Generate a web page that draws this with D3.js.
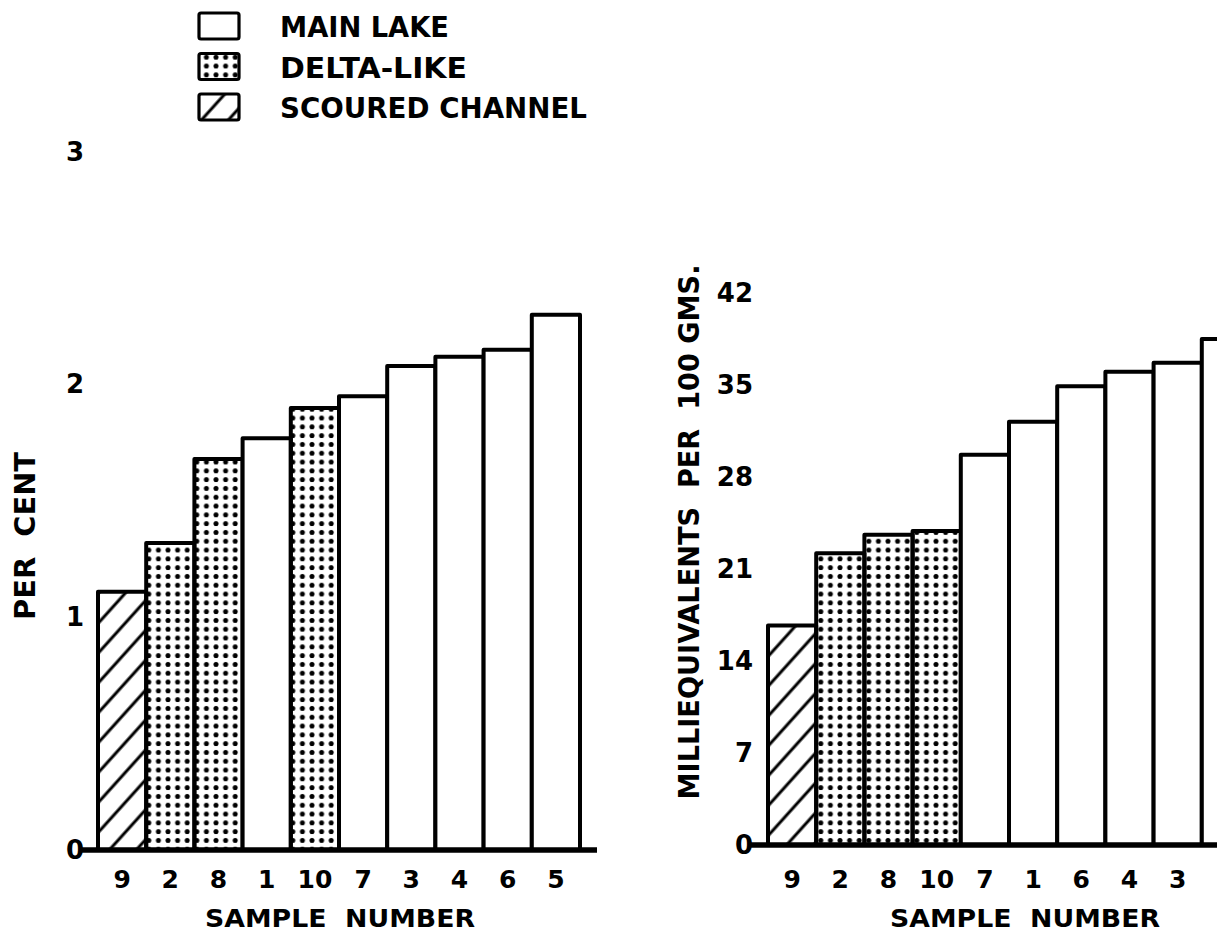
<!DOCTYPE html>
<html>
<head>
<meta charset="utf-8">
<script src="https://cdn.jsdelivr.net/npm/d3@7"></script>
<style>
  body { margin: 0; background: #fff; }
  svg { display: block; background: #fff; }
  text { font-family: "DejaVu Sans", "Liberation Sans", sans-serif; font-weight: bold; fill: #000; }
</style>
</head>
<body>
<svg id="chart"></svg>
<script>
// left panel: per cent
const leftSamples = ["9", "2", "8", "1", "10", "7", "3", "4", "6", "5"];
const leftValues = [1.11, 1.32, 1.68, 1.77, 1.90, 1.95, 2.08, 2.12, 2.15, 2.30];
const leftTypes = ["scoured", "delta", "delta", "main", "delta", "main", "main", "main", "main", "main"];
const leftTicks = [0, 1, 2, 3];

// right panel: milliequivalents per 100 gms
const rightSamples = ["9", "2", "8", "10", "7", "1", "6", "4", "3", "5"];
const rightValues = [16.7, 22.2, 23.6, 23.9, 29.7, 32.2, 34.9, 36.0, 36.7, 38.5];
const rightTypes = ["scoured", "delta", "delta", "delta", "main", "main", "main", "main", "main", "main"];
const rightTicks = [0, 7, 14, 21, 28, 35, 42];

const legendLabels = ["MAIN LAKE", "DELTA-LIKE", "SCOURED CHANNEL"];
const legendTypes = ["main", "delta", "scoured"];

const width = 1217;
const height = 941;

const svg = d3.select("#chart")
  .attr("width", width)
  .attr("height", height);

// fill patterns
const defs = svg.append("defs");
defs.append("pattern")
  .attr("id", "dots")
  .attr("patternUnits", "userSpaceOnUse")
  .attr("width", 9.6)
  .attr("height", 8.8)
  .append("circle")
  .attr("cx", 4.8)
  .attr("cy", 4.4)
  .attr("r", 2.5)
  .attr("fill", "#000");

defs.append("pattern")
  .attr("id", "hatch")
  .attr("patternUnits", "userSpaceOnUse")
  .attr("width", 10)
  .attr("height", 20)
  .attr("patternTransform", "rotate(-48)")
  .append("line")
  .attr("x1", 0).attr("y1", 10)
  .attr("x2", 10).attr("y2", 10)
  .attr("stroke", "#000")
  .attr("stroke-width", 3);

const fillFor = t => t === "delta" ? "url(#dots)" : t === "scoured" ? "url(#hatch)" : "#fff";

function drawPanel(p) {
  const x = d3.scaleBand()
    .domain(p.samples)
    .range(p.xRange)
    .padding(0);

  const y = d3.scaleLinear()
    .domain([0, p.yMax])
    .range([p.base, p.yTop]);

  const g = svg.append("g");

  // bars
  g.selectAll("rect.bar")
    .data(p.values)
    .enter().append("rect")
    .attr("class", "bar")
    .attr("x", (d, i) => x(p.samples[i]))
    .attr("y", d => y(d))
    .attr("width", x.bandwidth())
    .attr("height", d => y(0) - y(d))
    .attr("fill", (d, i) => fillFor(p.types[i]))
    .attr("stroke", "#000")
    .attr("stroke-width", 4)
    .attr("stroke-linejoin", "round");

  // baseline
  g.append("line")
    .attr("x1", p.lineStart)
    .attr("x2", p.lineEnd)
    .attr("y1", y(0))
    .attr("y2", y(0))
    .attr("stroke", "#000")
    .attr("stroke-width", 5.5);

  // y labels
  const yAxis = g.append("g")
    .attr("transform", `translate(${p.yLabelX},0)`)
    .call(d3.axisLeft(y).tickValues(p.ticks).tickSize(0).tickPadding(0).tickFormat(d3.format("d")))
    .call(a => a.select(".domain").remove());
  yAxis.selectAll("text")
    .attr("text-anchor", p.yAnchor)
    .style("font-size", "26px")
    .style("font-family", null);

  // x labels (the reference cuts off the last one at the page edge)
  const xAxis = g.append("g")
    .attr("transform", `translate(0,${y(0)})`)
    .call(d3.axisBottom(x).tickSize(0).tickPadding(0))
    .call(a => a.select(".domain").remove());
  xAxis.selectAll(".tick")
    .filter(d => x(d) + x.bandwidth() / 2 > width - 12)
    .remove();
  xAxis.selectAll("text")
    .attr("y", p.xLabelOffset)
    .attr("dy", "0.36em")
    .style("font-size", "25px")
    .style("font-family", null);

  // titles
  g.append("text")
    .attr("x", p.xTitleX)
    .attr("y", 918)
    .attr("dy", "0.36em")
    .attr("text-anchor", "middle")
    .attr("textLength", 270)
    .attr("lengthAdjust", "spacingAndGlyphs")
    .style("font-size", "25px")
    .style("white-space", "pre")
    .text("SAMPLE  NUMBER");

  g.append("text")
    .attr("transform", `translate(${p.yTitleX},${p.yTitleY}) rotate(-90)`)
    .attr("dy", "0.36em")
    .attr("text-anchor", "middle")
    .attr("textLength", p.yTitleLen)
    .attr("lengthAdjust", "spacingAndGlyphs")
    .style("font-size", "28px")
    .style("white-space", "pre")
    .text(p.yTitle);
}

drawPanel({
  samples: leftSamples, values: leftValues, types: leftTypes, ticks: leftTicks,
  xRange: [98, 580], base: 850, yTop: 152, yMax: 3,
  lineStart: 79, lineEnd: 597,
  yLabelX: 75, yAnchor: "middle",
  xLabelOffset: 29, xTitleX: 340,
  yTitle: "PER  CENT", yTitleX: 25, yTitleY: 536, yTitleLen: 168
});

drawPanel({
  samples: rightSamples, values: rightValues, types: rightTypes, ticks: rightTicks,
  xRange: [768, 1250], base: 845, yTop: 293, yMax: 42,
  lineStart: 750, lineEnd: 1230,
  yLabelX: 753, yAnchor: "end",
  xLabelOffset: 34, xTitleX: 1025,
  yTitle: "MILLIEQUIVALENTS  PER  100 GMS.", yTitleX: 689, yTitleY: 532, yTitleLen: 535
});

// legend
const legendY = d3.scalePoint()
  .domain(legendLabels)
  .range([26, 107]);

const legend = svg.append("g");
legend.selectAll("rect")
  .data(legendLabels)
  .enter().append("rect")
  .attr("x", 199)
  .attr("y", d => legendY(d) - 13)
  .attr("width", 40)
  .attr("height", 26)
  .attr("rx", 2)
  .attr("fill", (d, i) => fillFor(legendTypes[i]))
  .attr("stroke", "#000")
  .attr("stroke-width", 3.2);

const legendLens = [169, 187, 307];
legend.selectAll("text")
  .data(legendLabels)
  .enter().append("text")
  .attr("x", 280)
  .attr("y", d => legendY(d) + 1)
  .attr("dy", "0.36em")
  .attr("textLength", (d, i) => legendLens[i])
  .attr("lengthAdjust", "spacingAndGlyphs")
  .style("font-size", "28px")
  .text(d => d);
</script>
</body>
</html>
